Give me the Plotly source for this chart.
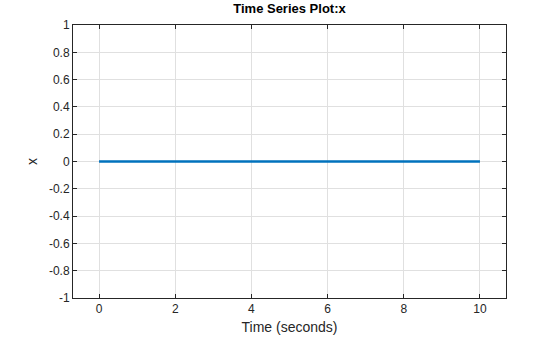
import plotly.graph_objects as go

times = [0, 1, 2, 3, 4, 5, 6, 7, 8, 9, 10]
x_values = [0, 0, 0, 0, 0, 0, 0, 0, 0, 0, 0]
x_ticks = [0, 2, 4, 6, 8, 10]
y_ticks = [-1, -0.8, -0.6, -0.4, -0.2, 0, 0.2, 0.4, 0.6, 0.8, 1]
y_tick_text = ["-1", "-0.8", "-0.6", "-0.4", "-0.2", "0", "0.2", "0.4", "0.6", "0.8", "1"]

fig = go.Figure()
fig.add_trace(go.Scatter(x=times, y=x_values, mode="lines",
                         line=dict(color="#0072BD", width=2.5), showlegend=False))

axis_common = dict(showline=True, linecolor="#262626", linewidth=1, mirror="ticks",
                   ticks="inside", ticklen=4, tickcolor="#262626",
                   showgrid=True, gridcolor="#e0e0e0", gridwidth=1, zeroline=False,
                   automargin=False,
                   tickfont=dict(family="Liberation Sans, Arial", size=12, color="#262626"))

fig.update_layout(
    width=560, height=337,
    margin=dict(l=73, r=54, t=25, b=39),
    paper_bgcolor="white", plot_bgcolor="white",
    title=dict(text="<b>Time Series Plot:x</b>", x=0.5, xref="paper", xanchor="center",
               y=1, yref="container", yanchor="top", pad=dict(t=4),
               font=dict(family="Liberation Sans, Arial", size=13, color="#000000")),
    xaxis=dict(range=[-0.684, 10.684], tickvals=x_ticks,
               title=dict(text="Time (seconds)", standoff=6,
                          font=dict(family="Liberation Sans, Arial", size=14, color="#262626")),
               **axis_common),
    yaxis=dict(range=[-1, 1], tickvals=y_ticks, ticktext=y_tick_text,
               title=dict(text="x", standoff=8,
                          font=dict(family="Liberation Sans, Arial", size=14, color="#262626")),
               **axis_common),
)

fig.write_html("out.html")
